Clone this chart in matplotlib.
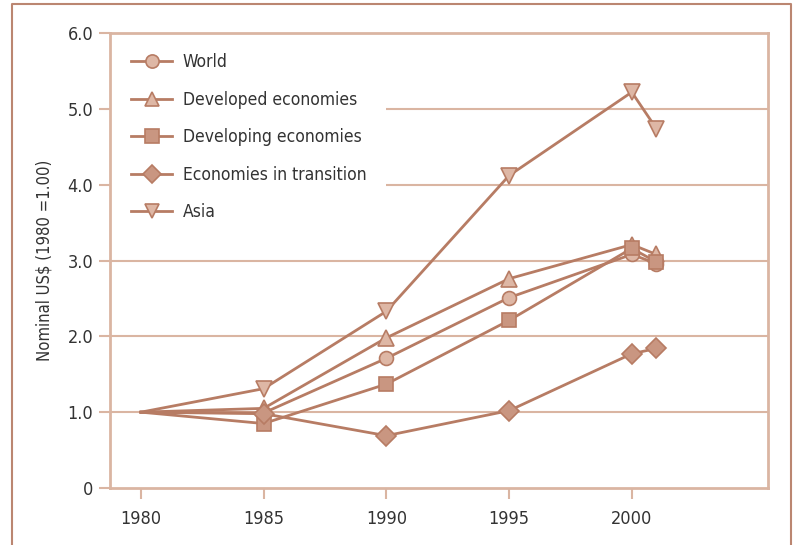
import matplotlib.pyplot as plt
from matplotlib.lines import Line2D

plt.rcParams['font.family'] = ['DejaVu Sans']
plt.rcParams['font.stretch'] = 'condensed'

# ---- data (index, 1980 = 1.00) ----
years = [1980, 1985, 1990, 1995, 2000, 2001]
world = [1.0, 0.99, 1.71, 2.51, 3.08, 2.96]
developed = [1.0, 1.05, 1.98, 2.76, 3.21, 3.08]
developing = [1.0, 0.85, 1.37, 2.21, 3.16, 2.98]
transition = [1.0, 0.98, 0.69, 1.02, 1.77, 1.84]
asia = [1.0, 1.31, 2.33, 4.12, 5.22, 4.74]

series = [
    ('World', world, 'o', '#deb7a5'),
    ('Developed economies', developed, '^', '#deb7a5'),
    ('Developing economies', developing, 's', '#c99681'),
    ('Economies in transition', transition, 'D', '#c99681'),
    ('Asia', asia, 'v', '#deb7a5'),
]

c_line = '#b77c64'
c_axis = '#dab5a2'
c_frame = '#bb8671'
c_text = '#333333'

fig = plt.figure(figsize=(7.95, 5.45), dpi=100)
ax = fig.add_axes([110 / 795, 1 - 488 / 545, (768 - 110) / 795, (488 - 33) / 545])

# outer frame (left, top, right)
fig.add_artist(Line2D([12 / 795, 12 / 795, 791 / 795, 791 / 795],
                      [0, 1 - 4 / 545, 1 - 4 / 545, 0],
                      transform=fig.transFigure, color=c_frame, lw=1.5))

for yv in [1, 2, 3, 4, 5]:
    ax.axhline(yv, color=c_axis, lw=1.5, zorder=1)

for name, vals, mk, fc in series:
    ms = {'o': 10, 's': 10, 'D': 10, '^': 11, 'v': 11}[mk]
    ax.plot(years, vals, color=c_line, lw=2, marker=mk, markersize=ms,
            markevery=slice(1, None),
            markerfacecolor=fc, markeredgecolor=c_line, markeredgewidth=1.2,
            label=name, zorder=3)

ax.set_xlim(1978.74, 2005.55)
ax.set_ylim(0, 6.0)
ax.set_xticks([1980, 1985, 1990, 1995, 2000])
ax.set_yticks([0, 1, 2, 3, 4, 5, 6])
ax.set_yticklabels(['0', '1.0', '2.0', '3.0', '4.0', '5.0', '6.0'])

for s in ax.spines.values():
    s.set_color(c_axis)
    s.set_linewidth(2)

ax.tick_params(axis='both', colors=c_axis, length=8, width=1.5,
               labelcolor=c_text, labelsize=13)
ax.tick_params(axis='x', pad=8)
ax.tick_params(axis='y', pad=4)

ax.set_ylabel('Nominal US$ (1980 =1.00)', fontsize=12, color=c_text, labelpad=10)

leg = ax.legend(loc='upper left', bbox_to_anchor=(-0.012, 1.018), frameon=True,
                facecolor='white', edgecolor='none', framealpha=1,
                fontsize=12.5, handlelength=2.4, handletextpad=0.6,
                labelspacing=1.12, borderpad=1.15, fancybox=False, markerscale=0.95)
leg.set_zorder(2)
for t in leg.get_texts():
    t.set_color(c_text)

fig.savefig('out.png', dpi=100, facecolor='white')
